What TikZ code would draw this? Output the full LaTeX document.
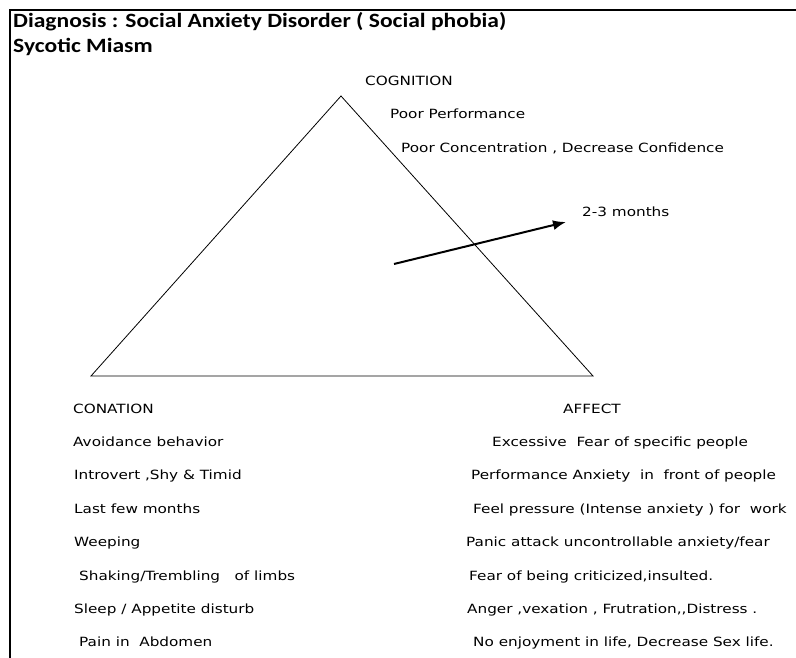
\documentclass[tikz,border=0pt]{standalone}
\usepackage{fontspec}
\usetikzlibrary{positioning,arrows.meta}
\newfontfamily\lbl[FakeStretch=1.2]{DejaVu Sans}
\newfontfamily\ttl[FakeStretch=1.16]{Carlito}

\begin{document}
\begin{tikzpicture}[x=1pt,y=-1pt,
    row/.style={font=\lbl\fontsize{12.7}{14}\selectfont, anchor=west, inner sep=0pt, text height=9pt, text depth=3pt},
    heading/.style={font=\ttl\bfseries\fontsize{20.3}{22}\selectfont, anchor=west, inner sep=0pt},
    node distance=21pt]
    \useasboundingbox (0,0) rectangle (796,658);
    % frame
    \draw[line width=2pt] (10,658) -- (10,10) -- (796,10);
    \node[heading] (diag) at (13,22) {Diagnosis : Social Anxiety Disorder ( Social phobia)};
    \node[heading] (miasm) at (13,47) {Sycotic Miasm};
    % triangle
    \coordinate (top) at (341,96);
    \coordinate (left) at (91,376);
    \coordinate (right) at (593,376);
    \draw[line width=0.8pt] (top) -- (left) -- (right) -- cycle;
    % arrow
    \coordinate (tail) at (394,264);
    \coordinate (head) at (566,222);
    \draw[line width=2pt, -{Latex[length=13pt,width=10pt]}] (tail) -- (head);
    \node[row] (dur) at (582,214) {2-3 months};
    % cognition
    \node[row] (cog) at (365,83) {COGNITION};
    \node[row, below=20pt of cog.south west, anchor=north west, xshift=25pt] (cog1) {Poor Performance};
    \node[row, below=22pt of cog1.south west, anchor=north west, xshift=11pt] (cog2) {Poor Concentration , Decrease Confidence};
    % conation
    \node[row] (con) at (73,410) {CONATION};
    \node[row, below=of con.south west, anchor=north west] (con1) {Avoidance behavior};
    \node[row, below=of con1.south west, anchor=north west, xshift=1pt] (con2) {Introvert ,Shy \& Timid};
    \node[row, below=of con2.south west, anchor=north west] (con3) {Last few months};
    \node[row, below=of con3.south west, anchor=north west] (con4) {Weeping};
    \node[row, below=of con4.south west, anchor=north west, xshift=5pt] (con5) {Shaking/Trembling \ \ of limbs};
    \node[row, below=of con5.south west, anchor=north west, xshift=-5pt] (con6) {Sleep / Appetite disturb};
    \node[row, below=of con6.south west, anchor=north west, xshift=5pt] (con7) {Pain in \ Abdomen};
    % affect
    \node[row] (aff) at (563,410) {AFFECT};
    \node[row, below=of aff.south west, anchor=north west, xshift=-71pt] (aff1) {Excessive \ Fear of specific people};
    \node[row, below=of aff1.south west, anchor=north west, xshift=-21pt] (aff2) {Performance Anxiety \ in \ front of people};
    \node[row, below=of aff2.south west, anchor=north west, xshift=2pt] (aff3) {Feel pressure (Intense anxiety ) for \ work};
    \node[row, below=of aff3.south west, anchor=north west, xshift=-7pt] (aff4) {Panic attack uncontrollable anxiety/fear};
    \node[row, below=of aff4.south west, anchor=north west, xshift=3pt] (aff5) {Fear of being criticized,insulted.};
    \node[row, below=of aff5.south west, anchor=north west, xshift=-2pt] (aff6) {Anger ,vexation , Frutration,,Distress .};
    \node[row, below=of aff6.south west, anchor=north west, xshift=6pt] (aff7) {No enjoyment in life, Decrease Sex life.};
\end{tikzpicture}
\end{document}
